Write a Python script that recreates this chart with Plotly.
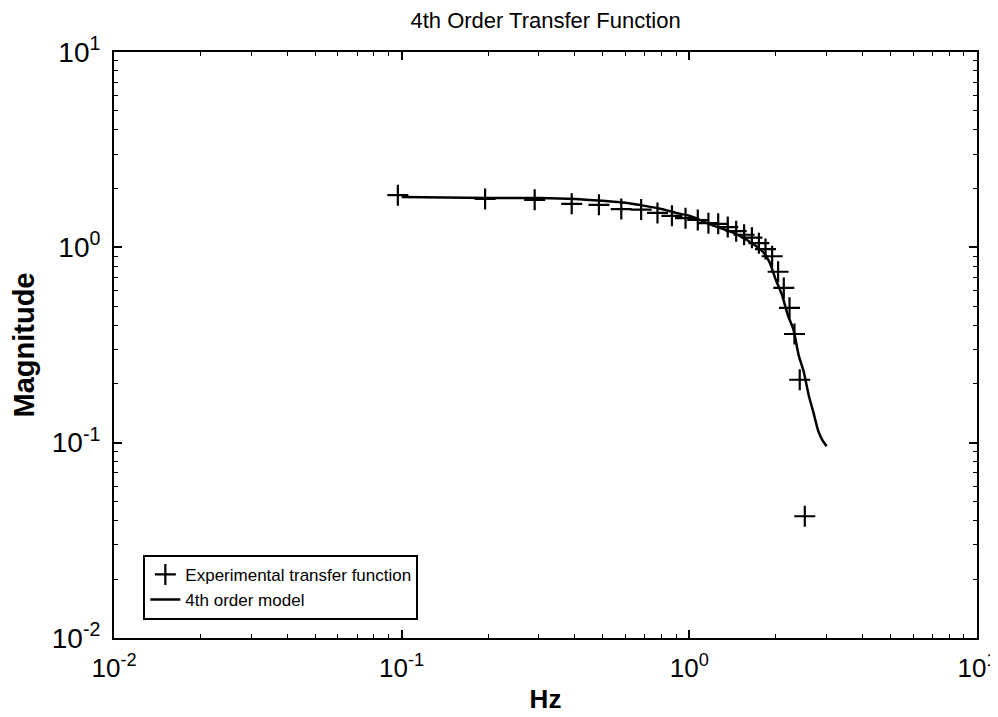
import plotly.graph_objects as go

# Experimental transfer function (Hz, magnitude)
exp_freq = [0.097, 0.195, 0.29, 0.39, 0.485, 0.58, 0.68, 0.775, 0.87, 0.97,
            1.07, 1.165, 1.26, 1.36, 1.455, 1.55, 1.65, 1.745, 1.84, 1.94,
            2.035, 2.13, 2.23, 2.32, 2.42, 2.52]
exp_mag = [1.85, 1.77, 1.75, 1.67, 1.65, 1.57, 1.56, 1.50, 1.45, 1.41,
           1.38, 1.33, 1.32, 1.27, 1.21, 1.16, 1.12, 1.05, 0.98, 0.90,
           0.75, 0.62, 0.49, 0.36, 0.21, 0.042]

# 4th order model
model_freq = [0.1, 0.2, 0.3, 0.4, 0.5, 0.6, 0.7, 0.8, 0.9, 1.0,
              1.2, 1.4, 1.6, 1.8, 1.9, 2.0, 2.1, 2.2, 2.3, 2.4,
              2.5, 2.6, 2.7, 2.8, 2.9, 3.0]
model_mag = [1.81, 1.79, 1.79, 1.77, 1.73, 1.69, 1.63, 1.57, 1.50, 1.45,
             1.30, 1.20, 1.08, 0.95, 0.84, 0.68, 0.57, 0.45, 0.38, 0.28,
             0.23, 0.175, 0.143, 0.116, 0.103, 0.096]

x_tickvals = [0.01, 0.1, 1, 10]
x_ticktext = ["10<sup>-2</sup>", "10<sup>-1</sup>", "10<sup>0</sup>", "10<sup>1</sup>"]
y_tickvals = [0.01, 0.1, 1, 10]
y_ticktext = ["10<sup>-2</sup>", "10<sup>-1</sup>", "10<sup>0</sup>", "10<sup>1</sup>"]
minor_vals = [m * d for d in [0.01, 0.1, 1] for m in range(2, 10)]

FONT = "Liberation Sans, Arial, sans-serif"

fig = go.Figure()
fig.add_trace(go.Scatter(
    x=exp_freq, y=exp_mag, mode="markers", name="Experimental transfer function",
    marker=dict(symbol="cross-thin", size=15, color="black",
                line=dict(width=2.2, color="black")),
))
fig.add_trace(go.Scatter(
    x=model_freq, y=model_mag, mode="lines", name="4th order model",
    line=dict(color="black", width=2.5, shape="spline", smoothing=0.6),
))

axis_common = dict(
    type="log", showgrid=False, zeroline=False, automargin=False,
    showline=True, linecolor="black", linewidth=2, mirror="ticks",
    ticks="inside", ticklen=8, tickwidth=1.5, tickcolor="black",
    minor=dict(tickmode="array", tickvals=minor_vals, ticks="inside", ticklen=4,
               tickwidth=1.2, tickcolor="black", showgrid=False),
    ticklabeloverflow="allow",
)

fig.update_xaxes(range=[-2, 1], tickvals=x_tickvals, ticktext=x_ticktext,
                 ticklabelstandoff=6,
                 tickfont=dict(family=FONT, size=26, color="black"),
                 title=dict(text="<b>Hz</b>", font=dict(family=FONT, size=26, color="black"), standoff=8),
                 **axis_common)
fig.update_yaxes(range=[-2, 1], tickvals=y_tickvals, ticktext=y_ticktext,
                 ticklabelstandoff=6,
                 tickfont=dict(family=FONT, size=28, color="black"),
                 title=dict(text="<b>Magnitude</b>", font=dict(family=FONT, size=29, color="black"), standoff=9),
                 **axis_common)

# page body adds an 8px offset; figure is sized to fill the remaining window
fig.update_layout(
    width=990, height=709,
    margin=dict(l=106, r=21, t=44, b=79, autoexpand=False),
    paper_bgcolor="white", plot_bgcolor="white",
    title=dict(text="4th Order Transfer Function", x=0.543, xanchor="center",
               y=0.993, yanchor="top", pad=dict(t=0, b=0),
               font=dict(family=FONT, size=22, color="black")),
    legend=dict(x=0.034, y=0.031, xanchor="left", yanchor="bottom",
                bordercolor="black", borderwidth=2, bgcolor="white",
                font=dict(family=FONT, size=17, color="black"),
                tracegroupgap=0, itemwidth=30),
    showlegend=True,
)

fig.write_html("out.html")
